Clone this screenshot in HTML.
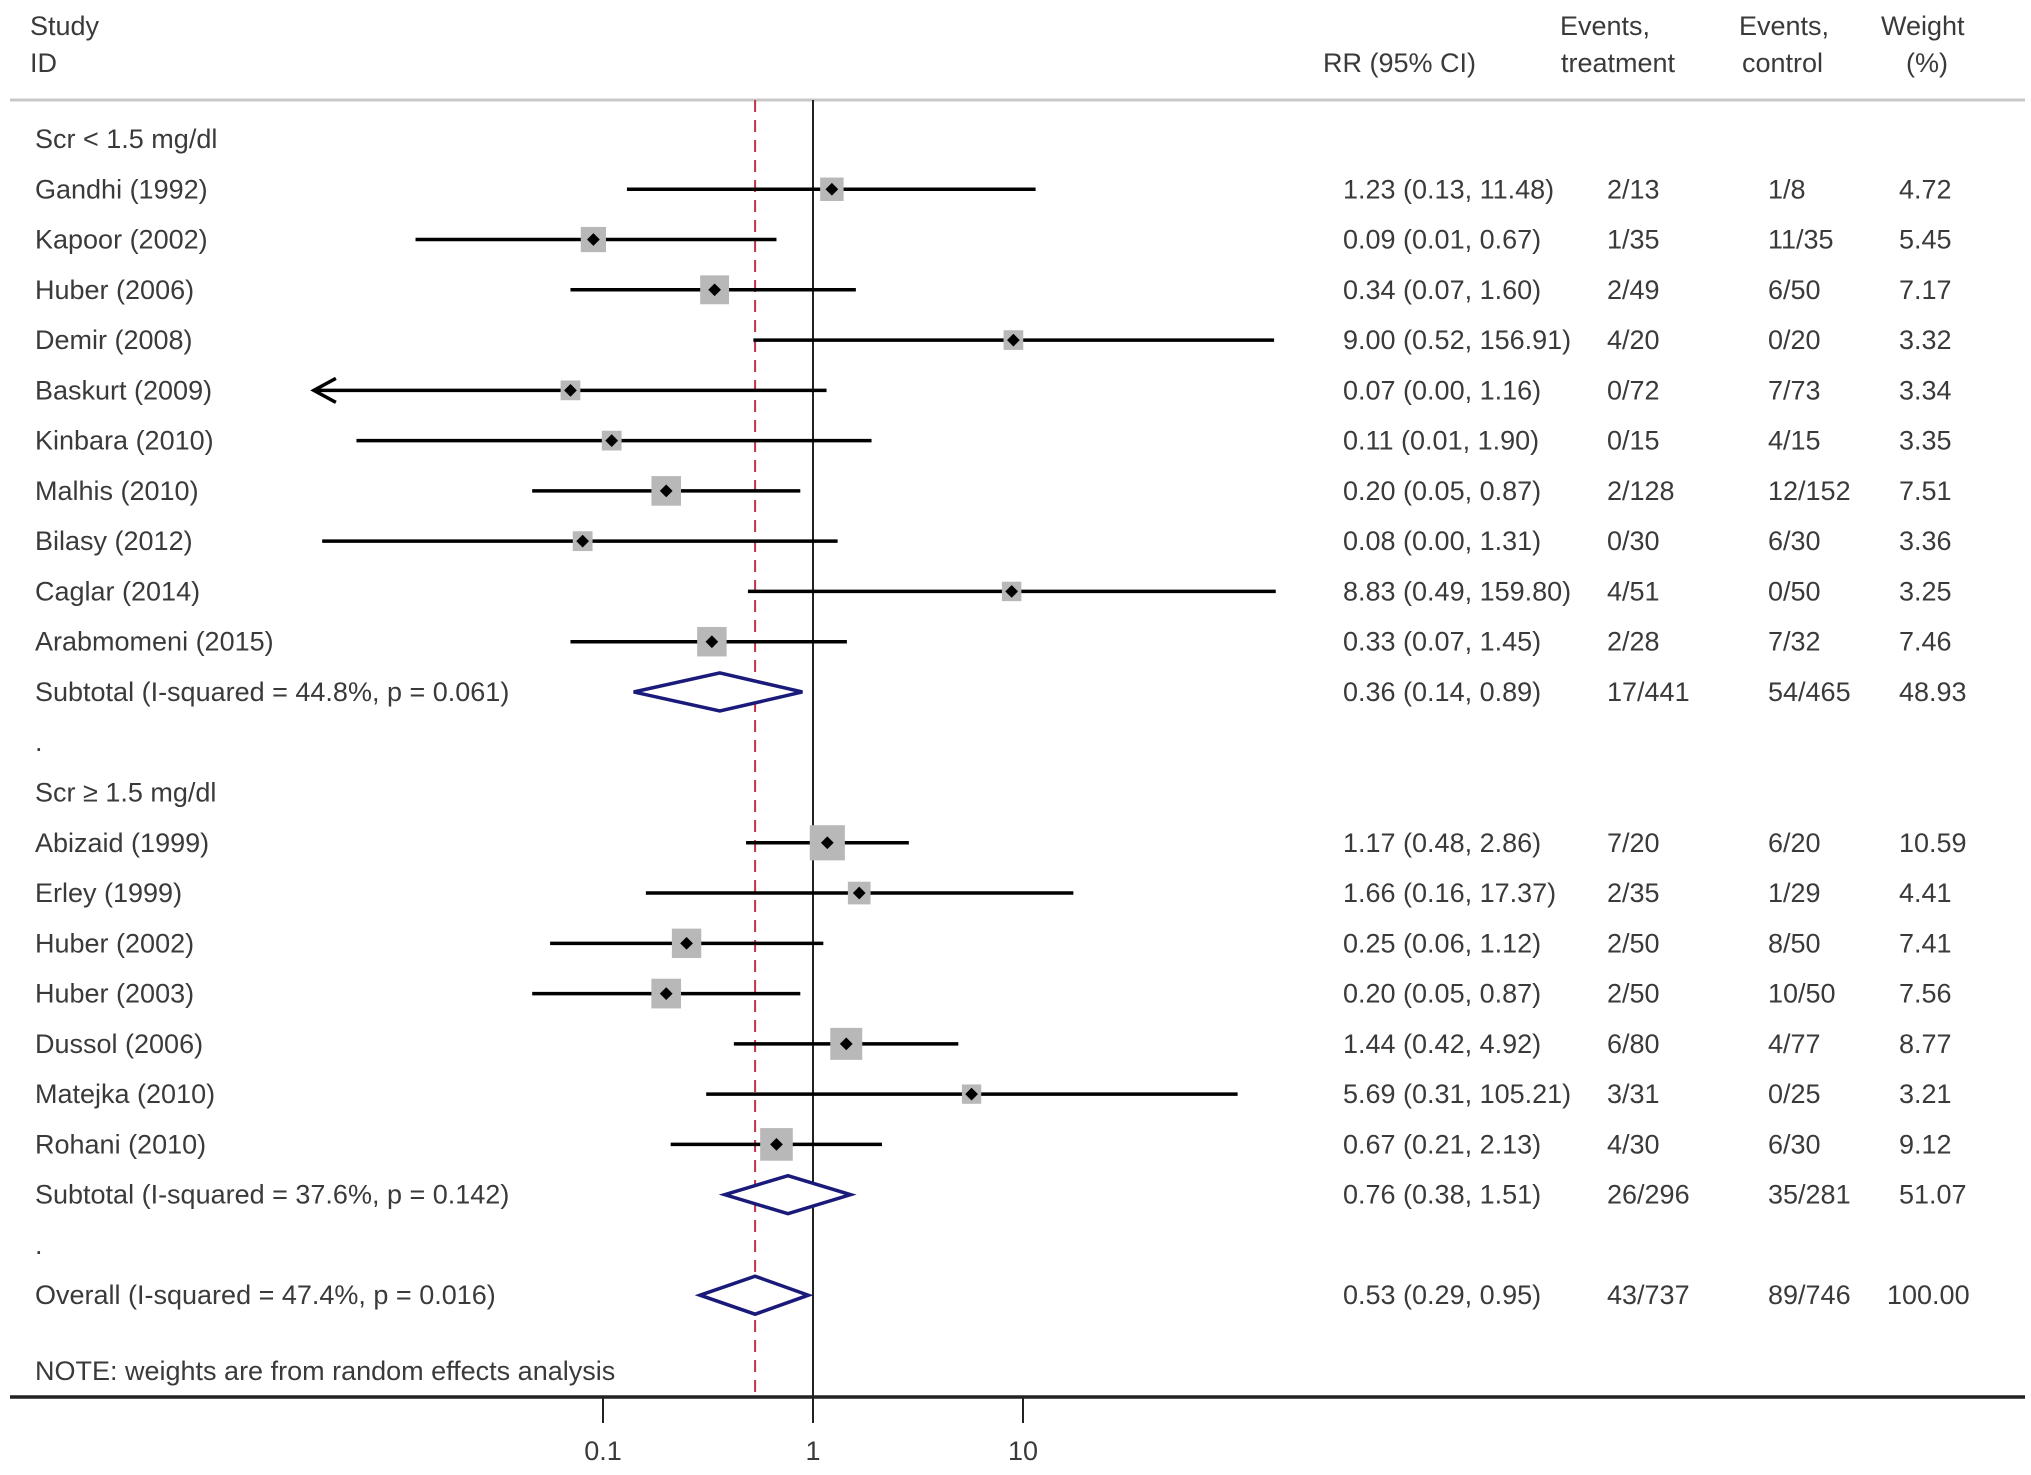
<!DOCTYPE html>
<html><head><meta charset="utf-8"><style>
html,body{margin:0;padding:0;background:#fff;}
svg{display:block;}
text{font-family:"Liberation Sans",sans-serif;font-size:27px;fill:#3a3a3a;}
</style></head><body>
<svg id="chart" width="2031" height="1475" viewBox="0 0 2031 1475" xmlns="http://www.w3.org/2000/svg">
<g id="hdr">
<text x="30" y="35">Study</text>
<text x="30" y="72">ID</text>
<text x="1323" y="72">RR (95% CI)</text>
<text x="1560" y="35">Events,</text>
<text x="1561" y="72">treatment</text>
<text x="1739" y="35">Events,</text>
<text x="1742" y="72">control</text>
<text x="1881" y="35">Weight</text>
<text x="1906" y="72">(%)</text>
</g>
<line x1="10" y1="100" x2="2025" y2="100" stroke="#c8c8c8" stroke-width="3"/>
<g id="plot"></g>
</svg>
<script>
const labels=["Scr < 1.5 mg/dl","Gandhi (1992)","Kapoor (2002)","Huber (2006)","Demir (2008)","Baskurt (2009)","Kinbara (2010)","Malhis (2010)","Bilasy (2012)","Caglar (2014)","Arabmomeni (2015)","Subtotal  (I-squared = 44.8%, p = 0.061)",".","Scr \u2265 1.5 mg/dl","Abizaid (1999)","Erley (1999)","Huber (2002)","Huber (2003)","Dussol (2006)","Matejka (2010)","Rohani (2010)","Subtotal  (I-squared = 37.6%, p = 0.142)",".","Overall  (I-squared = 47.4%, p = 0.016)"];
const kinds=["h","s","s","s","s","s","s","s","s","s","s","d","t","h","s","s","s","s","s","s","s","d","t","d"];
const rr=[null,1.23,0.09,0.34,9.00,0.07,0.11,0.20,0.08,8.83,0.33,0.36,null,null,1.17,1.66,0.25,0.20,1.44,5.69,0.67,0.76,null,0.53];
const lo=[null,0.13,0.0128,0.07,0.52,0.004,0.0067,0.046,0.0046,0.49,0.07,0.14,null,null,0.48,0.16,0.056,0.046,0.42,0.31,0.21,0.38,null,0.29];
const hi=[null,11.48,0.67,1.60,156.91,1.16,1.90,0.87,1.31,159.80,1.45,0.89,null,null,2.86,17.37,1.12,0.87,4.92,105.21,2.13,1.51,null,0.95];
const ciText=[null,"1.23 (0.13, 11.48)","0.09 (0.01, 0.67)","0.34 (0.07, 1.60)","9.00 (0.52, 156.91)","0.07 (0.00, 1.16)","0.11 (0.01, 1.90)","0.20 (0.05, 0.87)","0.08 (0.00, 1.31)","8.83 (0.49, 159.80)","0.33 (0.07, 1.45)","0.36 (0.14, 0.89)",null,null,"1.17 (0.48, 2.86)","1.66 (0.16, 17.37)","0.25 (0.06, 1.12)","0.20 (0.05, 0.87)","1.44 (0.42, 4.92)","5.69 (0.31, 105.21)","0.67 (0.21, 2.13)","0.76 (0.38, 1.51)",null,"0.53 (0.29, 0.95)"];
const evT=[null,"2/13","1/35","2/49","4/20","0/72","0/15","2/128","0/30","4/51","2/28","17/441",null,null,"7/20","2/35","2/50","2/50","6/80","3/31","4/30","26/296",null,"43/737"];
const evC=[null,"1/8","11/35","6/50","0/20","7/73","4/15","12/152","6/30","0/50","7/32","54/465",null,null,"6/20","1/29","8/50","10/50","4/77","0/25","6/30","35/281",null,"89/746"];
const weights=[null,4.72,5.45,7.17,3.32,3.34,3.35,7.51,3.36,3.25,7.46,48.93,null,null,10.59,4.41,7.41,7.56,8.77,3.21,9.12,51.07,null,100.00];
const tickVals=[0.1,1,10];
const tickLabels=["0.1","1","10"];
const overall=0.53;

const NS="http://www.w3.org/2000/svg";
const g=document.getElementById('plot');
const xMin=0.0042;
function xs(v){return 813+210*Math.log10(Math.max(v,xMin));}
function ys(i){return 139+i*50.27;}
function mk(tag,attrs,parent){const e=document.createElementNS(NS,tag);for(const k in attrs)e.setAttribute(k,attrs[k]);(parent||g).appendChild(e);return e;}
function txt(x,y,s,name){const t=mk('text',{x:x,y:y});t.textContent=s;


return t;}

const nl=mk('line',{x1:xs(1),y1:100,x2:xs(1),y2:1397,stroke:'#222','stroke-width':2});


const ol=mk('line',{x1:xs(overall),y1:100,x2:xs(overall),y2:1397,stroke:'#c0334a','stroke-width':2,'stroke-dasharray':'12 8'});



for(let i=0;i<labels.length;i++){
  const y=ys(i), k=kinds[i];
  txt(35,y+9,labels[i],'row-label');
  if(k==='s'){
    const x1=xs(lo[i]),x2=xs(hi[i]);
    const ln=mk('line',{x1:x1,y1:y,x2:x2,y2:y,stroke:'#000','stroke-width':3.5});
    
    
    if(lo[i]<xMin){
      const ar=mk('polyline',{points:(x1+22)+','+(y-12)+' '+x1+','+y+' '+(x1+22)+','+(y+12),fill:'none',stroke:'#000','stroke-width':3.5});
      
      
    }
    const s=10.8*Math.sqrt(weights[i]);
    const bx=mk('rect',{x:xs(rr[i])-s/2,y:y-s/2,width:s,height:s,fill:'#b8b8b8'});
    
    
    const pt=mk('rect',{x:xs(rr[i])-4.5,y:y-4.5,width:9,height:9,fill:'#000',transform:'rotate(45 '+xs(rr[i])+' '+y+')'});
    
    
  } else if(k==='d'){
    const d=mk('polygon',{points:xs(lo[i])+','+y+' '+xs(rr[i])+','+(y-19)+' '+xs(hi[i])+','+y+' '+xs(rr[i])+','+(y+19),fill:'#fff',stroke:'#1a1a7a','stroke-width':3.5});
    
    
  }
  if(ciText[i]){
    txt(1343,y+9,ciText[i],'rr-ci-value');
    txt(1607,y+9,evT[i],'events-treatment');
    txt(1768,y+9,evC[i],'events-control');
    txt(weights[i]>=100?1887:1899,y+9,weights[i].toFixed(2),'weight-value');
  }
}
txt(35,1380,"NOTE: weights are from random effects analysis",'note');
const ax=mk('line',{x1:10,y1:1397,x2:2025,y2:1397,stroke:'#222','stroke-width':3.5});


for(let j=0;j<tickVals.length;j++){
  const x=xs(tickVals[j]);
  const tk=mk('line',{x1:x,y1:1397,x2:x,y2:1423,stroke:'#222','stroke-width':2});
  
  
  const t=txt(x,1460,tickLabels[j],'x-tick-label');
  t.setAttribute('text-anchor','middle');
}
</script>
</body></html>
